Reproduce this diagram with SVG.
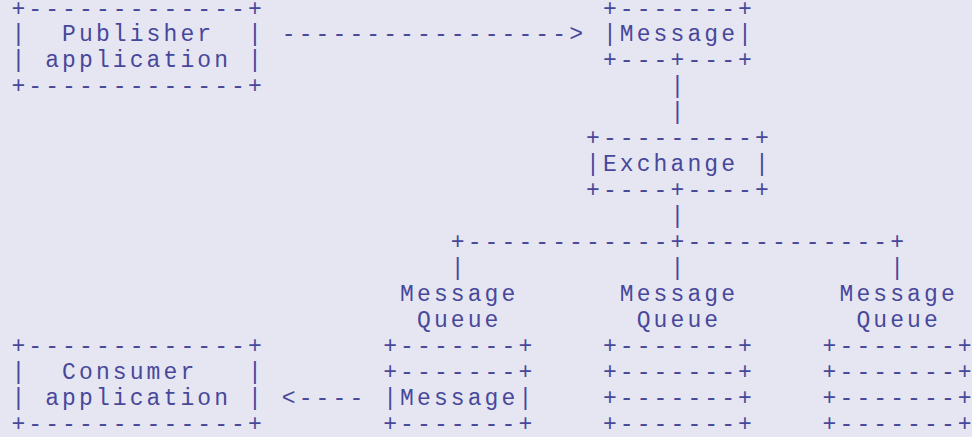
<svg xmlns="http://www.w3.org/2000/svg" width="972" height="437" viewBox="0 0 972 437">
<style>
text{font-family:"Liberation Mono","DejaVu Sans Mono",monospace;font-size:23px;letter-spacing:3.1px;fill:#48489a;}
</style>
<rect x="0" y="0" width="972" height="437" fill="#e6e6f3"/>
<g transform="translate(1.55,-1.3)">
<g id="publisher">
<text x="9.85" y="16.8">+-------------+</text>
<text x="9.85" y="42.74">|</text><text x="60.55" y="42.74">Publisher</text><text x="246.45" y="42.74">|</text>
<text x="9.85" y="68.68">|</text><text x="43.65" y="68.68">application</text><text x="246.45" y="68.68">|</text>
<text x="9.85" y="94.62">+-------------+</text>
</g>
<g id="message-in">
<text x="601.35" y="16.8">+-------+</text>
<text x="601.35" y="42.74">|Message|</text>
<text x="601.35" y="68.68">+---+---+</text>
</g>
<g id="exchange">
<text x="584.45" y="146.5">+---------+</text>
<text x="584.45" y="172.44">|Exchange</text><text x="753.45" y="172.44">|</text>
<text x="584.45" y="198.38">+----+----+</text>
</g>
<g id="queue1">
<text x="398.55" y="302.14">Message</text>
<text x="415.45" y="328.08">Queue</text>
<text x="381.65" y="354.02">+-------+</text>
<text x="381.65" y="379.96">+-------+</text>
<text x="381.65" y="405.9">|Message|</text>
<text x="381.65" y="431.84">+-------+</text>
</g>
<g id="queue2">
<text x="618.25" y="302.14">Message</text>
<text x="635.15" y="328.08">Queue</text>
<text x="601.35" y="354.02">+-------+</text>
<text x="601.35" y="379.96">+-------+</text>
<text x="601.35" y="405.9">+-------+</text>
<text x="601.35" y="431.84">+-------+</text>
</g>
<g id="queue3">
<text x="837.95" y="302.14">Message</text>
<text x="854.85" y="328.08">Queue</text>
<text x="821.05" y="354.02">+-------+</text>
<text x="821.05" y="379.96">+-------+</text>
<text x="821.05" y="405.9">+-------+</text>
<text x="821.05" y="431.84">+-------+</text>
</g>
<g id="consumer">
<text x="9.85" y="354.02">+-------------+</text>
<text x="9.85" y="379.96">|</text><text x="60.55" y="379.96">Consumer</text><text x="246.45" y="379.96">|</text>
<text x="9.85" y="405.9">|</text><text x="43.65" y="405.9">application</text><text x="246.45" y="405.9">|</text>
<text x="9.85" y="431.84">+-------------+</text>
</g>
<g id="connectors">
<text x="280.25" y="42.74">-----------------&gt;</text>
<text x="668.95" y="94.62">|</text>
<text x="668.95" y="120.56">|</text>
<text x="668.95" y="224.32">|</text>
<text x="449.25" y="250.26">+------------+------------+</text>
<text x="449.25" y="276.2">|</text>
<text x="668.95" y="276.2">|</text>
<text x="888.65" y="276.2">|</text>
<text x="280.25" y="405.9">&lt;----</text>
</g>
</g>
</svg>
